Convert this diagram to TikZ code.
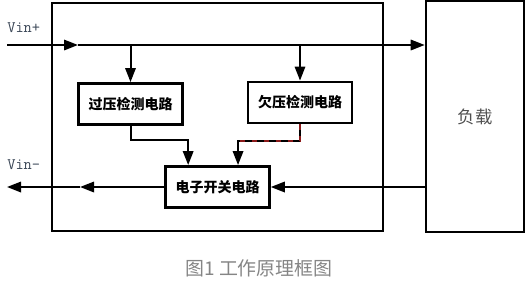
\documentclass[tikz,border=0pt]{standalone}
\usepackage{fontspec}
\usepackage{tikz}
\usetikzlibrary{arrows.meta,positioning,calc}
\newfontfamily\cjk{Noto Sans CJK SC}
\definecolor{Primary}{HTML}{000000}
\definecolor{LabelInk}{HTML}{3A4656}
\definecolor{LoadInk}{HTML}{505050}
\definecolor{CapInk}{HTML}{858585}
\definecolor{DashRed}{HTML}{8B1A1A}

\begin{document}
\begin{tikzpicture}[
    x=0.75pt,y=-0.75pt,
    part/.style={rectangle,draw=Primary,line width=1.9pt,fill=white,minimum width=78pt,minimum height=31pt,align=center,font=\cjk\bfseries\fontsize{10.5}{12}\selectfont},
    wire/.style={draw=Primary,line width=1.5pt},
    arr/.style={wire,-{Triangle[length=10.5pt,width=7.8pt]}},
    pin/.style={font=\ttfamily\fontsize{12}{14}\selectfont,text=LabelInk,anchor=west,inner sep=0pt},
]
\useasboundingbox (0,0) rectangle (530,283);
% outer frame
\draw[line width=1.9pt] (52,3) rectangle (383,231);
\node[part,minimum width=73.5pt,minimum height=173pt,font=\cjk\fontsize{13}{15}\selectfont,text=LoadInk] (load) at (475,116.5) {负载};
\node[part] (over) at (130.5,104) {过压检测电路};
\node[part] (under) at (300,102.5) {欠压检测电路};
\node[part] (switch) at (217.5,187) {电子开关电路};
% supply lines
\coordinate (vinp) at (7,45);
\coordinate (midp) at (78,45);
\coordinate (vinm) at (7,187);
\coordinate (midm) at (80,187);
\node[pin] (lblp) at (7,28) {Vin+};
\node[pin] (lblm) at (7,165) {Vin-};
\draw[arr] (vinp) -- (midp);
\draw[arr] (midp) -- (vinp -| load.west);
\draw[arr] (over.north |- vinp) -- (over.north);
\draw[arr] (under.north |- vinp) -- (under.north);
% detection to switch
\coordinate (otap) at ([xshift=-22pt]switch.north);
\coordinate (utap) at ([xshift=15.4pt]switch.north);
\coordinate (ubend) at ($(under.south)+(0,17)$);
\draw[arr] (over.south) -- ++(0,14) -| (otap);
\draw[arr] (under.south) -- (ubend) -| (utap);
\draw[DashRed,line width=1.5pt,dash pattern=on 4pt off 5pt] (under.south) -- (ubend) -- (ubend -| utap);
% return line
\draw[arr] (load.west |- switch) -- (switch.east);
\draw[arr] (switch.west) -- (midm);
\draw[arr] (midm) -- (vinm);
\node[font=\cjk\fontsize{14.2}{16}\selectfont,text=CapInk] (caption) at (259,268) {图1 工作原理框图};
\end{tikzpicture}
\end{document}
